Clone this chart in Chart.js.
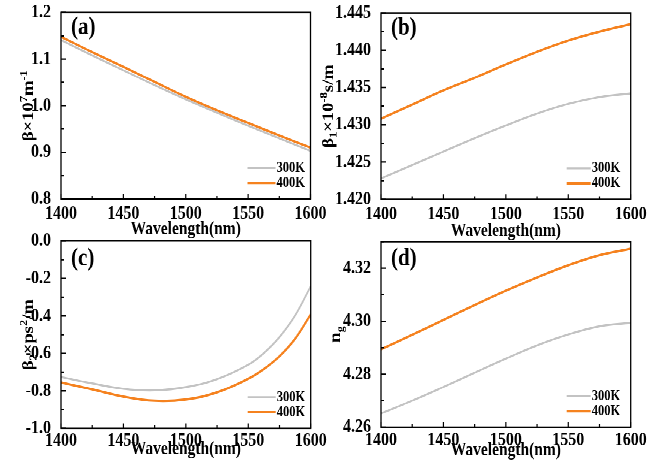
<!DOCTYPE html>
<html>
<head>
<meta charset="utf-8">
<script src="https://cdn.jsdelivr.net/npm/chart.js@4.4.0/dist/chart.umd.min.js"></script>
<style>
    html, body { margin: 0; padding: 0; background: #fff; }
    #figura {
        position: absolute; left: 0; top: 0;
        width: 669px; height: 388px;
        transform: scaleY(1.19845); transform-origin: 0 0;
    }
    #figura canvas { position: absolute; }
</style>
</head>
<body>
<div id="figura">
    <canvas id="painelA" width="335" height="200" style="left:0;top:0;width:335px;height:200px"></canvas>
    <canvas id="painelC" width="335" height="194" style="left:0;top:194px;width:335px;height:194px"></canvas>
    <canvas id="painelB" width="349" height="200" style="left:320px;top:0;width:349px;height:200px"></canvas>
    <canvas id="painelD" width="349" height="194" style="left:320px;top:194px;width:349px;height:194px"></canvas>
</div>
<script>
// comprimento de onda (nm)
const comprimentos = [1400, 1425, 1450, 1475, 1500, 1525, 1550, 1575, 1600];
// o painel (c) sobe rapido no fim, entao tem leituras mais densas ali
const comprimentosC = [1400, 1425, 1450, 1475, 1500, 1525, 1550, 1562.5, 1575, 1587.5, 1600];

// (a) beta x 10^7 m^-1
const beta300 = [1.141, 1.108, 1.076, 1.044, 1.0135, 0.985, 0.957, 0.930, 0.903];
const beta400 = [1.148, 1.115, 1.0835, 1.051, 1.019, 0.990, 0.963, 0.936, 0.910];

// (b) beta1 x 10^-8 s/m
const beta1_300 = [1.4228, 1.4246, 1.4264, 1.4282, 1.4299, 1.4315, 1.4328, 1.4337, 1.4342];
const beta1_400 = [1.4308, 1.4327, 1.4346, 1.4363, 1.4381, 1.4398, 1.4413, 1.4425, 1.4435];

// (c) beta2 x ps^2/m
const beta2_300 = [-0.726, -0.760, -0.789, -0.797, -0.780, -0.737, -0.660, -0.598, -0.513, -0.398, -0.242];
const beta2_400 = [-0.755, -0.792, -0.831, -0.853, -0.846, -0.808, -0.735, -0.683, -0.615, -0.522, -0.392];

// (d) indice de grupo
const ng300 = [4.2652, 4.2700, 4.2752, 4.2806, 4.2859, 4.2909, 4.2950, 4.2981, 4.2994];
const ng400 = [4.2894, 4.2949, 4.3005, 4.3061, 4.3115, 4.3165, 4.3211, 4.3249, 4.3273];

// marcas dos eixos
const ticksX = [1400, 1450, 1500, 1550, 1600];
const ticksA = [0.8, 0.9, 1.0, 1.1, 1.2];
const ticksB = [1.420, 1.425, 1.430, 1.435, 1.440, 1.445];
const ticksC = [-1.0, -0.8, -0.6, -0.4, -0.2, 0.0];
const ticksD = [4.26, 4.28, 4.30, 4.32];

const rotulos = ['300K', '400K'];

const COR_300 = '#c3c3c3';
const COR_400 = '#f5821f';
const FONTE = '"Liberation Serif", "Times New Roman", serif';
const ESCALA_Y = 465 / 388;

function pares(xs, valores) {
    return xs.map((x, i) => ({ x, y: valores[i] }));
}

function menores(maiores, maximo) {
    const passo = maiores[1] - maiores[0];
    const lista = [];
    for (let v = maiores[0] + passo / 2; v <= maximo + passo * 1e-6; v += passo) {
        lista.push(v);
    }
    return lista;
}

// titulo com sub/sobrescritos, desenhado na vertical
function desenharTituloY(ctx, partes, cx, cy) {
    const base = `bold 15.5px ${FONTE}`;
    const peq = `bold 10.5px ${FONTE}`;
    ctx.save();
    ctx.translate(cx, cy);
    ctx.rotate(-Math.PI / 2);
    ctx.textBaseline = 'alphabetic';
    ctx.textAlign = 'left';
    let total = 0;
    partes.forEach(([t, nivel]) => {
        ctx.font = nivel ? peq : base;
        total += ctx.measureText(t).width;
    });
    let x = -total / 2;
    partes.forEach(([t, nivel]) => {
        ctx.font = nivel ? peq : base;
        const dy = nivel === 1 ? -6 : (nivel === -1 ? 3.5 : 0);
        ctx.fillText(t, x, 5 + dy);
        x += ctx.measureText(t).width;
    });
    ctx.restore();
}

const moldura = {
    id: 'moldura',
    afterDraw(chart, args, opts) {
        const { ctx, chartArea: area, scales } = chart;
        ctx.save();
        ctx.strokeStyle = '#000';
        ctx.fillStyle = '#000';
        ctx.lineWidth = 1.2;

        // marcas para dentro (maiores e menores)
        ctx.beginPath();
        const yMaior = 5 / ESCALA_Y, yMenor = 3 / ESCALA_Y;
        ticksX.forEach(v => {
            const px = scales.x.getPixelForValue(v);
            ctx.moveTo(px, area.bottom);
            ctx.lineTo(px, area.bottom - yMaior);
        });
        menores(ticksX, scales.x.max).forEach(v => {
            const px = scales.x.getPixelForValue(v);
            ctx.moveTo(px, area.bottom);
            ctx.lineTo(px, area.bottom - yMenor);
        });
        opts.ticks.forEach(v => {
            const py = scales.y.getPixelForValue(v);
            ctx.moveTo(area.left, py);
            ctx.lineTo(area.left + 5, py);
        });
        menores(opts.ticks, scales.y.max).forEach(v => {
            const py = scales.y.getPixelForValue(v);
            ctx.moveTo(area.left, py);
            ctx.lineTo(area.left + 3, py);
        });
        ctx.stroke();

        ctx.lineWidth = 1.3;
        ctx.strokeRect(area.left, area.top, area.right - area.left, area.bottom - area.top);

        // letra do painel
        ctx.font = `bold 21px ${FONTE}`;
        ctx.textAlign = 'left';
        ctx.textBaseline = 'alphabetic';
        ctx.fillText(opts.letra, area.left + 10, area.top + opts.letraY);

        // legenda no canto inferior direito
        ctx.font = `bold 12.5px ${FONTE}`;
        ctx.textBaseline = 'middle';
        const linhas = [31 / ESCALA_Y, 16 / ESCALA_Y];
        chart.data.datasets.forEach((ds, i) => {
            const y = area.bottom - linhas[i];
            const fim = area.right - opts.legendaDireita;
            ctx.strokeStyle = ds.borderColor;
            ctx.lineWidth = ds.borderWidth;
            ctx.beginPath();
            ctx.moveTo(fim - opts.legendaLinha, y);
            ctx.lineTo(fim, y);
            ctx.stroke();
            ctx.fillText(ds.label, fim + 1, y);
        });

        desenharTituloY(ctx, opts.tituloY, opts.tituloX, (area.top + area.bottom) / 2);
        ctx.restore();
    }
};

function criarPainel(id, cfg) {
    const fonteTicks = { family: FONTE, size: 16, weight: 'bold' };
    const xs = cfg.xs || comprimentos;
    return new Chart(document.getElementById(id), {
        type: 'line',
        data: {
            datasets: [
                { label: rotulos[0], data: pares(xs, cfg.serie300), borderColor: COR_300, borderWidth: 1.7 },
                { label: rotulos[1], data: pares(xs, cfg.serie400), borderColor: COR_400, borderWidth: 2 }
            ]
        },
        options: {
            responsive: false,
            animation: false,
            devicePixelRatio: 2,
            events: [],
            layout: { padding: { top: cfg.topo, right: cfg.direita, left: 0, bottom: 0 } },
            elements: {
                point: { radius: 0 },
                line: { tension: 0.4, fill: false }
            },
            plugins: {
                legend: { display: false },
                tooltip: { enabled: false },
                moldura: {
                    letra: cfg.letra,
                    letraY: cfg.letraY,
                    ticks: cfg.ticksY,
                    tituloY: cfg.tituloY,
                    tituloX: cfg.tituloX,
                    legendaDireita: cfg.legendaDireita,
                    legendaLinha: cfg.legendaLinha
                }
            },
            scales: {
                x: {
                    type: 'linear',
                    min: 1400,
                    max: 1600,
                    grid: { display: false },
                    border: { display: false },
                    afterBuildTicks: s => { s.ticks = ticksX.map(v => ({ value: v })); },
                    afterFit: s => { s.height = cfg.alturaX; s.paddingLeft = 0; s.paddingRight = 0; },
                    ticks: {
                        font: fonteTicks,
                        color: '#000',
                        padding: cfg.padX,
                        maxRotation: 0,
                        autoSkip: false,
                        callback: v => String(v)
                    },
                    title: {
                        display: true,
                        text: 'Wavelength(nm)',
                        color: '#000',
                        font: { family: FONTE, size: 15.5, weight: 'bold', lineHeight: 1.2 },
                        padding: { top: 0, bottom: cfg.padTitulo }
                    }
                },
                y: {
                    min: cfg.min,
                    max: cfg.max,
                    grid: { display: false },
                    border: { display: false },
                    afterBuildTicks: s => { s.ticks = cfg.ticksY.map(v => ({ value: v })); },
                    afterFit: s => { s.width = 61; s.paddingTop = 0; s.paddingBottom = 0; },
                    ticks: {
                        font: fonteTicks,
                        color: '#000',
                        padding: 2,
                        autoSkip: false,
                        callback: v => v.toFixed(cfg.casas)
                    }
                }
            }
        },
        plugins: [moldura]
    });
}

criarPainel('painelA', {
    serie300: beta300, serie400: beta400,
    min: 0.8, max: 1.2, ticksY: ticksA, casas: 1,
    topo: 10.4, direita: 24.5, alturaX: 34, padX: -5, padTitulo: -1,
    letra: '(a)', letraY: 18,
    tituloX: 28,
    tituloY: [['β×10', 0], ['7', 1], ['m', 0], ['-1', 1]],
    legendaDireita: 35, legendaLinha: 28
});

criarPainel('painelB', {
    serie300: beta1_300, serie400: beta1_400,
    min: 1.420, max: 1.445, ticksY: ticksB, casas: 3,
    topo: 10.8, direita: 38.3, alturaX: 33.7, padX: -5, padTitulo: -2.5,
    letra: '(b)', letraY: 18,
    tituloX: 8,
    tituloY: [['β', 0], ['1', -1], ['×10', 0], ['-8', 1], ['s/m', 0]],
    legendaDireita: 40, legendaLinha: 24
});

criarPainel('painelC', {
    xs: comprimentosC,
    serie300: beta2_300, serie400: beta2_400,
    min: -1.0, max: 0.0, ticksY: ticksC, casas: 1,
    topo: 7.1, direita: 24.3, alturaX: 30.6, padX: -7, padTitulo: 3.5,
    letra: '(c)', letraY: 20.5,
    tituloX: 28,
    tituloY: [['β', 0], ['2', -1], ['×ps', 0], ['2', 1], ['/m', 0]],
    legendaDireita: 35, legendaLinha: 28
});

criarPainel('painelD', {
    serie300: ng300, serie400: ng400,
    min: 4.26, max: 4.33, ticksY: ticksD, casas: 2,
    topo: 7.7, direita: 38.3, alturaX: 31.5, padX: -6.5, padTitulo: 2.5,
    letra: '(d)', letraY: 20,
    tituloX: 15,
    tituloY: [['n', 0], ['g', -1]],
    legendaDireita: 40, legendaLinha: 24
});
</script>
</body>
</html>
